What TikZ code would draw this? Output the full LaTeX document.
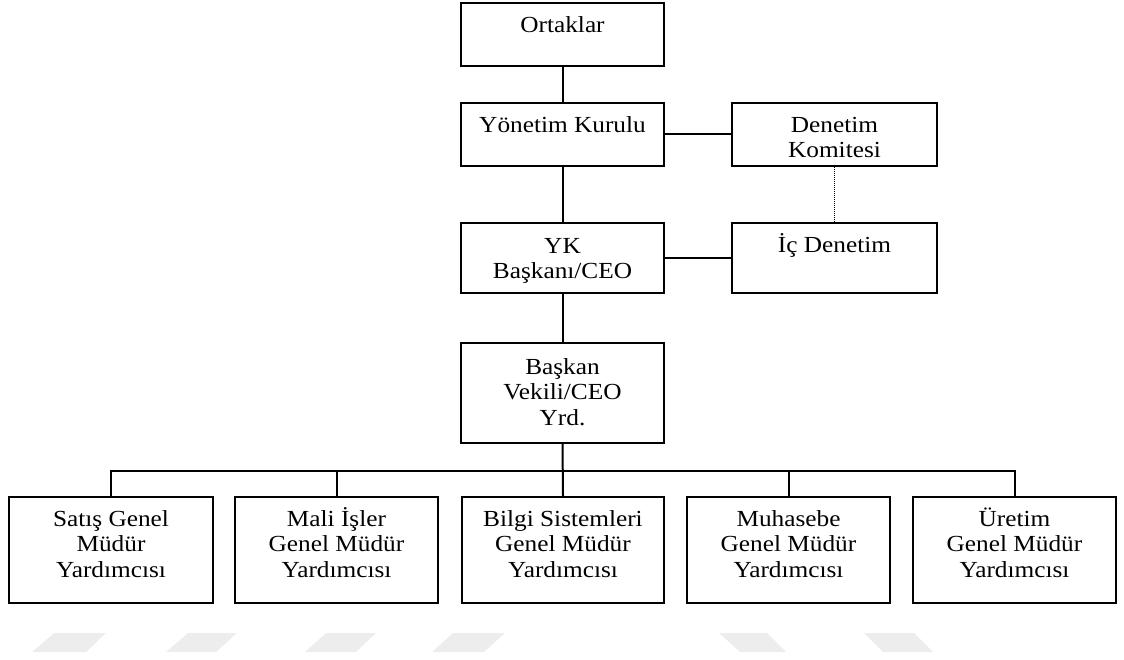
\documentclass[tikz,border=0pt]{standalone}
\usepackage{fontspec}
\setmainfont{Liberation Serif}[FakeStretch=1.1]
\begin{document}
\begin{tikzpicture}[x=1pt,y=-1pt,
  box/.style={draw=black, line width=2.2pt, inner sep=0pt, minimum width=203pt},
  txt/.style={inner sep=0pt, align=center, anchor=base, font=\fontsize{23}{25.5}\selectfont},
  link/.style={draw=black, line width=2pt},
  dotlink/.style={draw=black, line width=1.2pt, dash pattern=on 1pt off 1pt},
  wm/.style={fill=black!7, draw=none}]
\useasboundingbox (0,0) rectangle (1124,660);
% watermark
\fill[wm] (54,633) -- (106,633) -- (86,652) -- (32,652) -- cycle;
\fill[wm] (188,633) -- (237,633) -- (216,652) -- (166,652) -- cycle;
\fill[wm] (326,633) -- (376,633) -- (356,652) -- (305,652) -- cycle;
\fill[wm] (453,633) -- (505,633) -- (484,652) -- (432,652) -- cycle;
\fill[wm] (719,633) -- (767,633) -- (786,652) -- (740,652) -- cycle;
\fill[wm] (864,633) -- (914,633) -- (933,652) -- (883,652) -- cycle;
% boxes
\node[box, minimum height=63pt] (ork) at (562.5,34.5) {};
\node[box, minimum height=63pt] (yk) at (562.5,134.5) {};
\node[box, minimum height=63pt, minimum width=205pt] (den) at (834.5,134.5) {};
\node[box, minimum height=70pt] (ykb) at (562.5,258) {};
\node[box, minimum height=70pt, minimum width=205pt] (ic) at (834.5,258) {};
\node[box, minimum height=100pt] (bv) at (562.5,393) {};
\node[box, minimum height=106pt, minimum width=204pt] (b1) at (111,550) {};
\node[box, minimum height=106pt] (b2) at (336.5,550) {};
\node[box, minimum height=106pt, minimum width=202pt] (b3) at (563,550) {};
\node[box, minimum height=106pt] (b4) at (788.5,550) {};
\node[box, minimum height=106pt] (b5) at (1014.5,550) {};
% texts (anchor base = baseline of the last line)
\node[txt] (orkT) at (562.5,33) {Ortaklar};
\node[txt] (ykT) at (562.5,133) {Yönetim Kurulu};
\node[txt] (denT) at (834.5,158) {Denetim\\Komitesi};
\node[txt] (ykbT) at (562.5,279) {YK\\Başkanı/CEO};
\node[txt] (icT) at (834.5,253) {İç Denetim};
\node[txt] (bvT) at (562.5,425) {Başkan\\Vekili/CEO\\Yrd.};
\node[txt] (b1T) at (111,577) {Satış Genel\\Müdür\\Yardımcısı};
\node[txt] (b2T) at (336.5,577) {Mali İşler\\Genel Müdür\\Yardımcısı};
\node[txt] (b3T) at (563,577) {Bilgi Sistemleri\\Genel Müdür\\Yardımcısı};
\node[txt] (b4T) at (788.5,577) {Muhasebe\\Genel Müdür\\Yardımcısı};
\node[txt] (b5T) at (1014.5,577) {Üretim\\Genel Müdür\\Yardımcısı};
% connectors
\coordinate (bar) at (0,471);
\draw[link] (ork) -- (yk);
\draw[link] (yk) -- (ykb);
\draw[link] (ykb) -- (bv);
\draw[link] (yk) -- (den);
\draw[link] (ykb) -- (ic);
\draw[dotlink] (den) -- (ic);
\draw[link] (bv.south) -- (b3.north);
\draw[link] (b1.north) -- (b1.north |- bar) -- (b5.north |- bar) -- (b5.north);
\draw[link] (b2.north) -- (b2.north |- bar);
\draw[link] (b4.north) -- (b4.north |- bar);
\end{tikzpicture}
\end{document}
